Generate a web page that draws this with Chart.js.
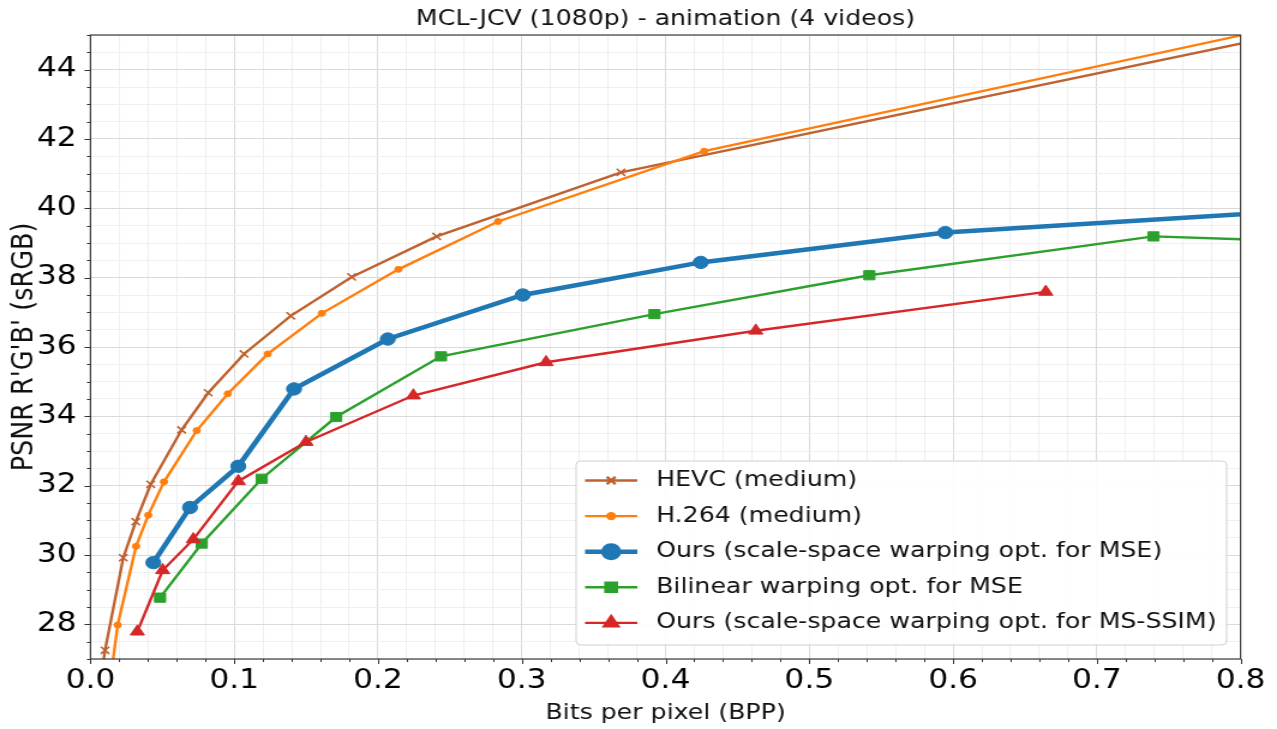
<!DOCTYPE html>
<html>
<head>
<meta charset="utf-8">
<title>MCL-JCV (1080p) - animation (4 videos)</title>
<script src="https://cdn.jsdelivr.net/npm/chart.js@4.4.1/dist/chart.umd.min.js"></script>
<style>
  html, body { margin: 0; padding: 0; background: #fff; overflow: hidden; }
  /* the figure is laid out on a 1064px-wide canvas and stretched to the full window width */
  #wrap { position: absolute; left: 0; top: 0; width: 1064px; height: 729px;
          transform-origin: 0 0; transform: scaleX(1.2002); }
</style>
</head>
<body>
<div id="wrap"><canvas id="chart"></canvas></div>
<script>
// ---- data: bits per pixel vs PSNR (dB) ----
const seriesNames = [
  'HEVC (medium)',
  'H.264 (medium)',
  'Ours (scale-space warping opt. for MSE)',
  'Bilinear warping opt. for MSE',
  'Ours (scale-space warping opt. for MS-SSIM)'
];

const hevcBpp  = [0.005, 0.0101, 0.0228, 0.0315, 0.0419, 0.0634, 0.0819, 0.1068, 0.1393, 0.1817, 0.2408, 0.369, 0.9];
const hevcPsnr = [25.8, 27.25, 29.92, 30.96, 32.04, 33.61, 34.68, 35.80, 36.90, 38.02, 39.19, 41.04, 45.61];

const h264Bpp  = [0.0126, 0.0189, 0.0317, 0.0402, 0.0511, 0.0739, 0.0955, 0.1233, 0.1609, 0.2142, 0.2835, 0.4269, 0.9];
const h264Psnr = [26.0, 27.98, 30.25, 31.15, 32.11, 33.59, 34.65, 35.80, 36.97, 38.24, 39.62, 41.65, 45.88];

const oursMseBpp  = [0.0437, 0.0692, 0.1028, 0.1416, 0.2068, 0.3007, 0.4245, 0.5946, 0.9];
const oursMsePsnr = [29.78, 31.37, 32.56, 34.79, 36.23, 37.50, 38.44, 39.30, 40.09];

const bilinearBpp  = [0.0484, 0.0774, 0.1191, 0.1708, 0.2438, 0.3923, 0.5418, 0.7394, 0.95];
const bilinearPsnr = [28.77, 30.33, 32.20, 33.98, 35.73, 36.95, 38.07, 39.19, 38.91];

const oursSsimBpp  = [0.0326, 0.0502, 0.0715, 0.1028, 0.1499, 0.2246, 0.3169, 0.4628, 0.6645];
const oursSsimPsnr = [27.79, 29.56, 30.45, 32.13, 33.26, 34.60, 35.56, 36.47, 37.59];

// axis settings
const xMin = 0, xMax = 0.8, xMajor = 0.1, xMinor = 0.02;
const yMin = 27, yMax = 45, yMajor = 2, yMinor = 0.5;

const FONT = '"DejaVu Sans", "Liberation Sans", sans-serif';

// ---- styles ----
const styles = [
  { color: '#be6230', line: 2.4, marker: 'crossRot', r: 5,   mb: 1.6 },
  { color: '#ff7f0e', line: 2.4, marker: 'circle',   r: 3,   mb: 1 },
  { color: '#1f77b4', line: 4.5, marker: 'circle',   r: 6.2, mb: 1 },
  { color: '#2ca02c', line: 2.4, marker: 'rect',     r: 6.5, mb: 1 },
  { color: '#d62728', line: 2.4, marker: 'triangle', r: 6.8, mb: 1 }
];

const xs = [hevcBpp, h264Bpp, oursMseBpp, bilinearBpp, oursSsimBpp];
const ys = [hevcPsnr, h264Psnr, oursMsePsnr, bilinearPsnr, oursSsimPsnr];

const datasets = seriesNames.map((name, i) => ({
  label: name,
  data: xs[i].map((x, k) => ({ x: x, y: ys[i][k] })),
  borderColor: styles[i].color,
  backgroundColor: styles[i].color,
  borderWidth: styles[i].line,
  pointStyle: styles[i].marker,
  pointRadius: styles[i].r,
  pointBorderWidth: styles[i].mb,
  pointBorderColor: styles[i].color,
  pointBackgroundColor: styles[i].color,
  pointHoverRadius: styles[i].r,
  tension: 0,
  fill: false,
  order: seriesNames.length - i   // later series are drawn on top
}));

function isMajor(v, step) {
  const q = v / step;
  return Math.abs(q - Math.round(q)) < 1e-6;
}

// frame, outward tick marks, title and legend
const decorations = {
  id: 'decorations',
  afterDatasetsDraw(chart) {
    const ctx = chart.ctx;
    const a = chart.chartArea;
    const xs_ = chart.scales.x, ys_ = chart.scales.y;
    ctx.save();

    // tick marks
    ctx.strokeStyle = '#333';
    ctx.lineWidth = 1;
    ctx.beginPath();
    ys_.ticks.forEach(t => {
      const y = Math.round(ys_.getPixelForValue(t.value)) + 0.5;
      const len = isMajor(t.value, yMajor) ? 5 : 3;
      ctx.moveTo(a.left - len, y);
      ctx.lineTo(a.left, y);
    });
    xs_.ticks.forEach(t => {
      const x = Math.round(xs_.getPixelForValue(t.value)) + 0.5;
      const len = isMajor(t.value, xMajor) ? 5 : 3;
      ctx.moveTo(x, a.bottom);
      ctx.lineTo(x, a.bottom + len);
    });
    ctx.stroke();

    // axes frame
    ctx.strokeStyle = '#3a3a3a';
    ctx.lineWidth = 1.2;
    ctx.strokeRect(a.left, a.top, a.right - a.left, a.bottom - a.top);

    // title centred over the plot area
    ctx.fillStyle = '#111';
    ctx.font = '21px ' + FONT;
    ctx.textAlign = 'center';
    ctx.textBaseline = 'middle';
    ctx.fillText('MCL-JCV (1080p) - animation (4 videos)', (a.left + a.right) / 2, 20);

    // legend box in the lower right of the plot
    const bx = 480, by = 461, bw = 542, bh = 184;
    ctx.beginPath();
    ctx.roundRect(bx, by, bw, bh, 4);
    ctx.fillStyle = 'rgba(255,255,255,0.92)';
    ctx.fill();
    ctx.strokeStyle = '#d0d0d0';
    ctx.lineWidth = 1;
    ctx.stroke();

    const rowY0 = 480.5, rowStep = 35.6;
    chart.data.datasets.forEach((ds, i) => {
      const y = rowY0 + i * rowStep;
      ctx.strokeStyle = ds.borderColor;
      ctx.lineWidth = ds.borderWidth;
      ctx.beginPath();
      ctx.moveTo(487.5, y);
      ctx.lineTo(531, y);
      ctx.stroke();
      Chart.helpers.drawPoint(ctx, {
        pointStyle: ds.pointStyle,
        radius: ds.pointRadius,
        rotation: 0,
        borderWidth: ds.pointBorderWidth
      }, 509.2, y);
      ctx.fillStyle = ds.borderColor;
      ctx.strokeStyle = ds.borderColor;
      ctx.lineWidth = ds.pointBorderWidth;
      ctx.fill();
      ctx.stroke();
      ctx.fillStyle = '#111';
      ctx.font = '21px ' + FONT;
      ctx.textAlign = 'left';
      ctx.textBaseline = 'middle';
      ctx.fillText(ds.label, 546.7, y);
    });
    ctx.restore();
  }
};

new Chart(document.getElementById('chart'), {
  type: 'line',
  data: { datasets: datasets },
  plugins: [decorations],
  options: {
    responsive: true,
    maintainAspectRatio: false,
    animation: false,
    devicePixelRatio: 1,
    layout: { padding: { top: 35, right: 30.4, left: 0, bottom: 0 } },
    plugins: { legend: { display: false }, title: { display: false }, tooltip: { enabled: false } },
    scales: {
      x: {
        type: 'linear',
        min: xMin, max: xMax,
        afterFit(s) { s.height = 70; },
        border: { display: false },
        grid: {
          drawTicks: false,
          color: c => isMajor(c.tick.value, xMajor) ? '#dadada' : '#efefef',
          lineWidth: 1
        },
        ticks: {
          stepSize: xMinor,
          autoSkip: false,
          maxRotation: 0,
          padding: 7,
          color: '#000',
          font: { family: FONT, size: 26 },
          callback: v => isMajor(v, xMajor) ? v.toFixed(1) : ''
        },
        title: {
          display: true,
          text: 'Bits per pixel (BPP)',
          color: '#111',
          font: { family: FONT, size: 21 },
          padding: { top: 0, bottom: 3 }
        }
      },
      y: {
        type: 'linear',
        min: yMin, max: yMax,
        afterFit(s) { s.width = 75.4; },
        border: { display: false },
        grid: {
          drawTicks: false,
          color: c => isMajor(c.tick.value, yMajor) ? '#dadada' : '#efefef',
          lineWidth: 1
        },
        ticks: {
          stepSize: yMinor,
          autoSkip: false,
          padding: 11.5,
          color: '#000',
          font: { family: FONT, size: 26 },
          callback: v => isMajor(v, yMajor) ? String(v) : ''
        },
        title: {
          display: true,
          text: "PSNR R'G'B' (sRGB)",
          color: '#111',
          font: { family: FONT, size: 25.5 },
          padding: { top: 5, bottom: 0 }
        }
      }
    }
  }
});
</script>
</body>
</html>
